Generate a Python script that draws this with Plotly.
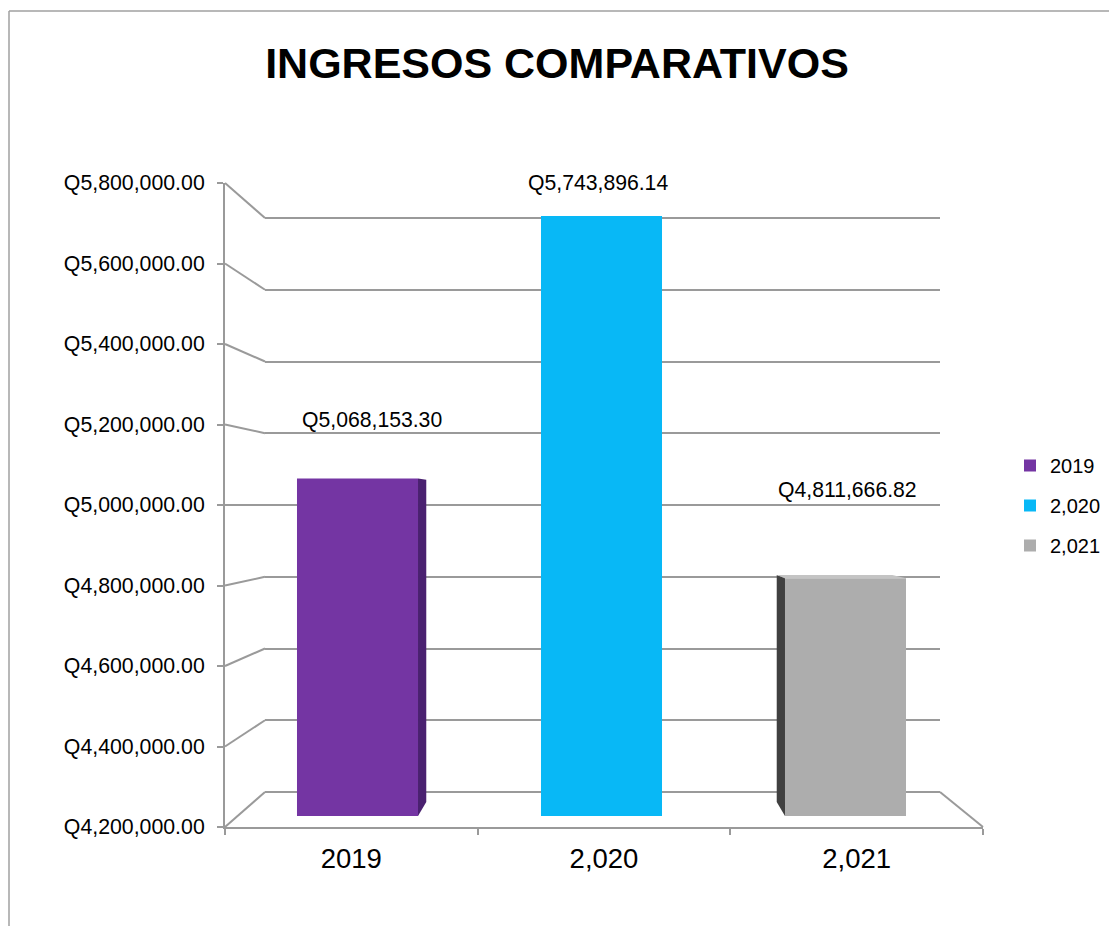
import plotly.graph_objects as go

# ---------------- data ----------------
categories = ["2019", "2,020", "2,021"]
values = [5068153.30, 5743896.14, 4811666.82]
label_texts = ["Q5,068,153.30", "Q5,743,896.14", "Q4,811,666.82"]
y_min, y_max, y_step = 4200000, 5800000, 200000
title_text = "INGRESOS COMPARATIVOS"

# ---------------- style ----------------
W, H = 1117, 926
OFF = 8  # page body margin
FONT = "Arial, Liberation Sans, sans-serif"
front_colors = ["#7435A3", "#08B8F6", "#ADADAD"]
side_colors = ["#4A2170", "#0793C4", "#404040"]
top_colors = ["#8A55B5", "#4FD0FA", "#C4C4C4"]
LINE = "#9A9A9A"
label_shift = [(14, 59), (-4, 33), (2, 88)]   # label offset from bar top (px)
bar_halfwidth = 0.248
depth_factor = 0.955
EPS = 3000  # small range padding so edge gridlines are drawn


def px_x(p):
    return (p - OFF) / W


def px_y(p):
    return 1 - (p - OFF) / H


# pixel frames (left, right, bottom(y_min), top(y_max)) for the three layers
back_frame = (265, 940, 792, 218)       # back wall grid
bar_frame = (235.5, 967.5, 816, 194.2)  # bars at mid depth
front_frame = (225, 983, 827, 183)      # front axes


def frame_y(frame, v):
    _, _, b, t = frame
    return b + (t - b) * (v - y_min) / (y_max - y_min)


fig = go.Figure()

# ---- back wall (gridlines) : x / y ----
fig.add_trace(go.Scatter(x=[0, 1], y=[y_min, y_max], mode="markers",
                         marker=dict(opacity=0), hoverinfo="skip",
                         showlegend=False, xaxis="x", yaxis="y"))

# ---- bars : x2 / y2 ----
n = len(values)
vp_x = (n - 1) / 2.0
vp_y = 5000000
for i, (cat, v) in enumerate(zip(categories, values)):
    fig.add_trace(go.Bar(x=[i], y=[v - y_min], base=y_min, width=2 * bar_halfwidth,
                         marker=dict(color=front_colors[i], line=dict(width=0)),
                         name=cat, legendgroup=cat, xaxis="x2", yaxis="y2",
                         hoverinfo="skip"))


def back(px_, py_):
    return (vp_x + (px_ - vp_x) * depth_factor, vp_y + (py_ - vp_y) * depth_factor)


for i, v in enumerate(values):
    xl, xr = i - bar_halfwidth, i + bar_halfwidth
    if xr < vp_x:
        xs = xr
    elif xl > vp_x:
        xs = xl
    else:
        xs = None
    if xs is not None:
        b0 = back(xs, y_min)
        b1 = back(xs, v)
        fig.add_trace(go.Scatter(x=[xs, b0[0], b1[0], xs, xs],
                                 y=[y_min, b0[1], b1[1], v, y_min],
                                 fill="toself", mode="lines", line=dict(width=0),
                                 fillcolor=side_colors[i], hoverinfo="skip",
                                 showlegend=False, xaxis="x2", yaxis="y2"))
    if v < vp_y:
        bl = back(xl, v)
        br = back(xr, v)
        fig.add_trace(go.Scatter(x=[xl, xr, br[0], bl[0], xl],
                                 y=[v, v, br[1], bl[1], v],
                                 fill="toself", mode="lines", line=dict(width=0),
                                 fillcolor=top_colors[i], hoverinfo="skip",
                                 showlegend=False, xaxis="x2", yaxis="y2"))

# ---- front axes : x3 / y3 ----
fig.add_trace(go.Scatter(x=categories, y=values, mode="markers",
                         marker=dict(opacity=0), hoverinfo="skip",
                         showlegend=False, xaxis="x3", yaxis="y3"))

# ---- data labels ----
annotations = []
for i, (v, t) in enumerate(zip(values, label_texts)):
    dx, dy = label_shift[i]
    annotations.append(dict(x=i, y=v, xref="x2", yref="y2", text=t, showarrow=False,
                            xshift=dx, yshift=dy, xanchor="center", yanchor="middle",
                            font=dict(family=FONT, size=21.2, color="#000000")))

# ---- perspective connectors (front axis -> back wall) ----
shapes = []
ticks = list(range(y_min, y_max + 1, y_step))
for tv in ticks:
    fy = frame_y(front_frame, tv)
    by = frame_y(back_frame, tv)
    shapes.append(dict(type="line", xref="paper", yref="paper",
                       x0=px_x(front_frame[0]), y0=px_y(fy),
                       x1=px_x(back_frame[0]), y1=px_y(by),
                       line=dict(color=LINE, width=2)))
shapes.append(dict(type="line", xref="paper", yref="paper",
                   x0=px_x(back_frame[1]), y0=px_y(frame_y(back_frame, y_min)),
                   x1=px_x(front_frame[1]), y1=px_y(frame_y(front_frame, y_min)),
                   line=dict(color=LINE, width=2)))
# chart border (top and left)
shapes.append(dict(type="line", xref="paper", yref="paper", x0=px_x(9), y0=px_y(11),
                   x1=px_x(1140), y1=px_y(11), line=dict(color="#A0A0A0", width=1.5)))
shapes.append(dict(type="line", xref="paper", yref="paper", x0=px_x(9), y0=px_y(11),
                   x1=px_x(9), y1=px_y(950), line=dict(color="#A0A0A0", width=1.5)))


def dom_x(frame):
    return [px_x(frame[0]), px_x(frame[1])]


def dom_y(frame, pad=0.0):
    b = frame_y(frame, y_min - pad)
    t = frame_y(frame, y_max + pad)
    return [px_y(b), px_y(t)]


fig.update_layout(
    width=W, height=H,
    margin=dict(l=0, r=0, t=0, b=0, autoexpand=False),
    paper_bgcolor="white", plot_bgcolor="rgba(0,0,0,0)",
    barmode="overlay",
    font=dict(family=FONT, color="#000000"),
    title=dict(text=title_text, x=px_x(557), y=px_y(63), xref="paper", yref="paper",
               xanchor="center", yanchor="middle", automargin=False,
               font=dict(family=FONT, size=43, color="#000000", weight="bold")),
    xaxis=dict(domain=dom_x(back_frame), range=[0, 1], visible=True, showgrid=False,
               showticklabels=False, ticks="", zeroline=False, showline=False,
               automargin=False),
    yaxis=dict(domain=dom_y(back_frame, EPS), range=[y_min - EPS, y_max + EPS],
               tickmode="array", tickvals=ticks,
               showgrid=True, gridcolor=LINE, gridwidth=2, showticklabels=False,
               ticks="", zeroline=False, showline=False, automargin=False),
    xaxis2=dict(domain=dom_x(bar_frame), range=[-0.5, n - 0.5], visible=False,
                automargin=False),
    yaxis2=dict(domain=dom_y(bar_frame), range=[y_min, y_max], visible=False,
                automargin=False),
    xaxis3=dict(domain=dom_x(front_frame), type="category", categoryarray=categories,
                range=[-0.5, n - 0.5], showgrid=False, zeroline=False,
                showline=True, linecolor=LINE, linewidth=2,
                ticks="outside", tickson="boundaries", ticklen=6, tickcolor=LINE,
                tickwidth=1.5, ticklabelstandoff=6, automargin=False,
                tickfont=dict(family=FONT, size=27.5, color="#000000"),
                anchor="y3"),
    yaxis3=dict(domain=dom_y(front_frame), range=[y_min, y_max], dtick=y_step, tick0=y_min,
                showgrid=False, zeroline=False, showline=True, linecolor=LINE, linewidth=2,
                ticks="outside", ticklen=6, tickcolor=LINE, tickwidth=1.5,
                tickprefix="Q", tickformat=",.2f", ticklabelstandoff=8, automargin=False,
                tickfont=dict(family=FONT, size=21.3, color="#000000"),
                anchor="x3"),
    legend=dict(x=px_x(1010), y=px_y(446), xanchor="left", yanchor="top",
                font=dict(family=FONT, size=20, color="#000000"),
                traceorder="grouped", tracegroupgap=11, bgcolor="rgba(0,0,0,0)"),
    annotations=annotations,
    shapes=shapes,
    showlegend=True,
)

fig.write_html("out.html")
